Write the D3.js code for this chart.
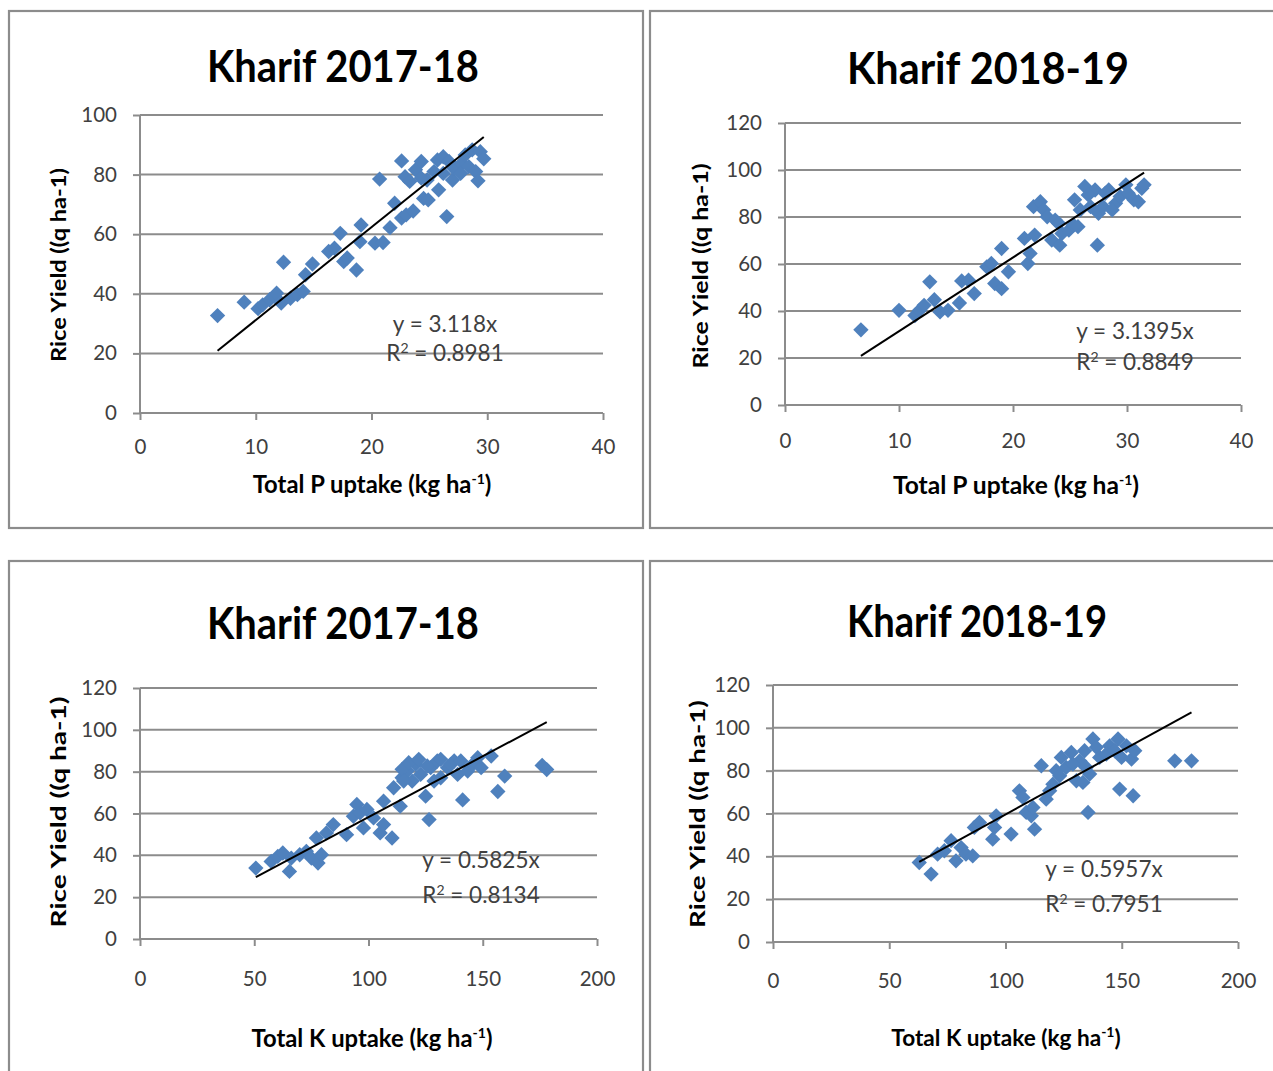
<!DOCTYPE html>
<html><head><meta charset="utf-8">
<script src="https://cdn.jsdelivr.net/npm/d3@7"></script>
<style>body{margin:0;background:#fff;} svg{display:block}</style>
</head><body>
<svg id="c" width="1273" height="1071"></svg>
<script>
// ---------- data ----------
const titles = ["Kharif 2017-18", "Kharif 2018-19", "Kharif 2017-18", "Kharif 2018-19"];
const xTitleMain = ["Total P uptake (kg ha", "Total P uptake (kg ha", "Total K uptake (kg ha", "Total K uptake (kg ha"];
const yTitleText = "Rice Yield ((q ha-1)";
const pTicks = [0, 10, 20, 30, 40];
const kTicks = [0, 50, 100, 150, 200];
const yTicks100 = [0, 20, 40, 60, 80, 100];
const yTicks120 = [0, 20, 40, 60, 80, 100, 120];
const slopes = [3.118, 3.1395, 0.5825, 0.5957];
const eqLabels = ["y = 3.118x", "y = 3.1395x", "y = 0.5825x", "y = 0.5957x"];
const r2Values = ["0.8981", "0.8849", "0.8134", "0.7951"];

// Kharif 2017-18, P uptake vs yield
const p1718X = [6.7, 9.0, 10.2, 10.6, 11.2, 11.8, 12.2, 12.4, 13.0, 13.6, 14.1, 14.3, 14.9, 16.3, 16.8, 17.3, 17.6, 17.9, 18.7, 19.0, 19.1, 20.3, 21.0, 20.7, 21.6, 22.0, 22.6, 22.6, 23.0, 22.9, 23.6, 23.3, 23.8, 24.3, 24.5, 24.9, 24.8, 25.4, 25.7, 25.8, 26.2, 26.5, 26.7, 27.0, 27.1, 27.8, 28.1, 28.4, 28.7, 29.0, 29.2, 29.4, 29.7, 27.7, 26.2, 24.3];
const p1718Y = [32.7, 37.2, 35.0, 36.3, 38.0, 40.2, 36.9, 50.6, 38.5, 39.7, 40.8, 46.4, 50.0, 54.2, 55.3, 60.3, 50.8, 52.0, 48.0, 57.5, 63.1, 57.0, 57.2, 78.5, 62.2, 70.4, 84.6, 65.4, 66.5, 79.3, 67.8, 77.7, 81.6, 84.4, 72.0, 71.5, 78.2, 81.0, 84.9, 74.9, 86.0, 65.9, 84.4, 78.2, 82.1, 83.8, 86.6, 82.7, 88.3, 81.0, 77.9, 87.7, 85.3, 80.4, 80.4, 78.8];

// Kharif 2018-19, P uptake vs yield
const p1819X = [6.66, 10.0, 11.4, 11.8, 12.2, 12.7, 13.1, 13.6, 14.3, 15.3, 15.5, 16.1, 16.6, 17.7, 18.1, 18.4, 19.0, 19.0, 19.6, 21.0, 21.3, 21.5, 21.9, 21.8, 22.4, 22.7, 23.0, 23.4, 23.7, 24.1, 24.3, 24.9, 25.3, 25.7, 25.4, 25.9, 26.3, 26.8, 27.2, 27.4, 27.5, 27.9, 28.1, 28.4, 29.0, 29.4, 29.9, 30.1, 30.6, 31.0, 31.3, 31.5, 26.6, 28.7, 24.0];
const p1819Y = [32.0, 40.3, 38.1, 40.3, 42.4, 52.4, 44.8, 39.6, 40.3, 43.4, 52.8, 53.1, 47.4, 58.8, 60.2, 51.7, 49.5, 66.6, 56.7, 70.9, 60.2, 64.5, 72.3, 84.4, 86.5, 83.0, 80.1, 70.2, 78.7, 68.0, 73.0, 74.4, 76.6, 75.9, 87.3, 83.0, 93.0, 84.4, 91.5, 68.0, 81.6, 84.4, 90.1, 91.5, 85.8, 88.7, 93.7, 90.1, 87.3, 86.5, 92.2, 93.7, 89.4, 83.0, 77.3];

// Kharif 2017-18, K uptake vs yield
const k1718X = [50.7, 57.4, 60.3, 62.5, 65.4, 66.2, 69.9, 72.8, 75.0, 77.2, 77.9, 79.4, 81.6, 84.6, 90.4, 93.4, 94.9, 96.3, 97.8, 99.3, 102.2, 105.1, 106.6, 106.6, 110.3, 111.0, 113.9, 114.7, 116.9, 119.1, 120.6, 122.8, 125.0, 126.5, 127.2, 130.1, 131.6, 134.6, 137.5, 139.0, 141.2, 143.4, 145.6, 147.8, 149.3, 153.7, 156.6, 159.6, 176.0, 178.0, 114.7, 117.6, 122.0, 125.7, 131.6, 136.0, 140.4, 115.4, 128.7];
const k1718Y = [33.9, 37.1, 39.5, 41.1, 32.3, 38.7, 40.3, 41.9, 38.7, 48.3, 36.3, 40.3, 50.7, 54.7, 49.9, 58.7, 64.3, 60.3, 53.1, 61.9, 57.9, 50.7, 65.9, 54.7, 48.3, 72.3, 63.5, 77.1, 80.3, 75.5, 83.5, 78.7, 68.3, 57.1, 81.9, 85.1, 77.1, 81.9, 85.1, 78.7, 66.5, 80.3, 83.5, 86.7, 81.9, 87.5, 70.5, 77.9, 83.0, 81.0, 81.1, 84.3, 85.9, 82.7, 85.9, 83.5, 85.1, 75.5, 75.5];

// Kharif 2018-19, K uptake vs yield
const k1819X = [62.9, 68.0, 70.8, 73.7, 76.6, 78.7, 80.9, 83.0, 85.9, 86.6, 88.8, 94.5, 95.3, 96.0, 102.4, 106.0, 107.5, 108.9, 111.1, 112.5, 111.8, 115.4, 117.5, 119.0, 120.4, 121.8, 124.0, 126.1, 128.3, 130.5, 131.9, 133.3, 134.0, 135.5, 136.2, 137.6, 139.1, 140.5, 144.8, 148.4, 149.1, 149.9, 152.0, 154.2, 154.9, 155.6, 172.8, 180.0, 123.3, 129.0, 134.7, 143.4, 147.0];
const k1819Y = [37.1, 31.7, 41.0, 42.6, 47.3, 37.9, 44.1, 41.0, 40.2, 53.5, 55.8, 48.0, 53.5, 58.9, 50.4, 70.6, 67.5, 60.5, 58.9, 52.7, 62.8, 82.3, 66.7, 70.6, 73.7, 80.0, 86.2, 81.5, 88.5, 75.3, 84.6, 74.5, 89.3, 60.5, 78.4, 94.8, 90.9, 86.2, 91.6, 94.8, 71.4, 86.2, 91.6, 85.4, 68.3, 89.3, 84.6, 84.6, 77.6, 83.1, 81.5, 87.8, 89.3];

// ---------- layout ----------
const svg = d3.select("#c");
const gray = "#8c8c8c";
const blue = "#4f81bd";
const FONT = "Lato, 'Open Sans', sans-serif";

const panels = [
  {xs: p1718X, ys: p1718Y, xTicks: pTicks, yTicks: yTicks100, xMax: 40, yMax: 100,
   box: [9, 11, 634, 517], plot: [140, 603, 115, 413], xPad: 19, titleX: 343, titleY: 82, titleW: 272,
   xTitleX: 372, xTitleY: 493, xTitleSize: 23.8, yTitleX: 66, yTitleY: 265, yTitleW: 194,
   eqX: 445, eqY: 332, r2Y: 361},
  {xs: p1819X, ys: p1819Y, xTicks: pTicks, yTicks: yTicks120, xMax: 40, yMax: 120,
   box: [650, 11, 640, 517], plot: [785, 1241, 123, 405], xPad: 21, titleX: 988, titleY: 84, titleW: 282,
   xTitleX: 1016, xTitleY: 494, xTitleSize: 24.6, yTitleX: 708, yTitleY: 266, yTitleW: 205,
   eqX: 1135, eqY: 339, r2Y: 370},
  {xs: k1718X, ys: k1718Y, xTicks: kTicks, yTicks: yTicks120, xMax: 200, yMax: 120,
   box: [9, 561, 634, 530], plot: [140, 597, 688, 939], xPad: 25, titleX: 343, titleY: 639, titleW: 272,
   xTitleX: 372, xTitleY: 1047, xTitleSize: 23.8, yTitleX: 66, yTitleY: 812, yTitleW: 231,
   eqX: 481, eqY: 868, r2Y: 903},
  {xs: k1819X, ys: k1819Y, xTicks: kTicks, yTicks: yTicks120, xMax: 200, yMax: 120,
   box: [650, 561, 640, 530], plot: [773, 1238, 685, 942], xPad: 24, titleX: 977, titleY: 637, titleW: 260,
   xTitleX: 1006, xTitleY: 1046, xTitleSize: 22.6, yTitleX: 705, yTitleY: 814, yTitleW: 228,
   eqX: 1104, eqY: 877, r2Y: 912}
];

panels.forEach((p, i) => {
  const g = svg.append("g");
  // panel border
  g.append("rect").attr("x", p.box[0]).attr("y", p.box[1]).attr("width", p.box[2]).attr("height", p.box[3])
    .attr("fill", "#fff").attr("stroke", gray).attr("stroke-width", 2.2);

  const x = d3.scaleLinear().domain([0, p.xMax]).range([p.plot[0], p.plot[1]]);
  const y = d3.scaleLinear().domain([0, p.yMax]).range([p.plot[3], p.plot[2]]);

  // gridlines
  g.append("g").selectAll("line").data(p.yTicks.filter(v => v > 0)).join("line")
    .attr("x1", p.plot[0]).attr("x2", p.plot[1])
    .attr("y1", d => y(d)).attr("y2", d => y(d))
    .attr("stroke", gray).attr("stroke-width", 2);

  // y axis
  const yAx = g.append("g").attr("transform", `translate(${p.plot[0]},0)`)
    .call(d3.axisLeft(y).tickValues(p.yTicks).tickSize(7).tickPadding(16).tickFormat(d3.format("d")));
  // x axis
  const xAx = g.append("g").attr("transform", `translate(0,${p.plot[3]})`)
    .call(d3.axisBottom(x).tickValues(p.xTicks).tickSize(7).tickPadding(p.xPad).tickFormat(d3.format("d")));
  [yAx, xAx].forEach(a => {
    a.select(".domain").attr("stroke", gray).attr("stroke-width", 2);
    a.selectAll(".tick line").attr("stroke", gray).attr("stroke-width", 2);
    a.selectAll(".tick text").attr("fill", "#404040").style("font-family", FONT).style("font-size", "20.5px");
  });
  xAx.select(".domain").attr("d", `M${p.plot[0]},0H${p.plot[1]}`);
  yAx.select(".domain").attr("d", `M0,${p.plot[2]}V${p.plot[3]}`);

  // points
  const pts = p.xs.map((v, k) => [v, p.ys[k]]);
  const sym = d3.symbol().type(d3.symbolDiamond2).size(150);
  g.append("g").selectAll("path").data(pts).join("path")
    .attr("d", sym)
    .attr("transform", d => `translate(${x(d[0])},${y(d[1])})`)
    .attr("fill", blue);

  // trendline (through origin) across data range
  const xmin = d3.min(p.xs), xmax = d3.max(p.xs);
  g.append("line")
    .attr("x1", x(xmin)).attr("y1", y(slopes[i] * xmin))
    .attr("x2", x(xmax)).attr("y2", y(slopes[i] * xmax))
    .attr("stroke", "#000").attr("stroke-width", 2);

  // equation labels
  g.append("text").attr("x", p.eqX).attr("y", p.eqY).attr("text-anchor", "middle")
    .style("font-family", FONT).style("font-size", "22.5px").attr("fill", "#404040")
    .text(eqLabels[i]);
  const r2 = g.append("text").attr("x", p.eqX).attr("y", p.r2Y).attr("text-anchor", "middle")
    .style("font-family", FONT).style("font-size", "22.5px").attr("fill", "#404040");
  r2.append("tspan").text("R");
  r2.append("tspan").attr("dy", -8).style("font-size", "14px").text("2");
  r2.append("tspan").attr("dy", 8).text(" = " + r2Values[i]);

  // title
  g.append("text").attr("x", p.titleX).attr("y", p.titleY).attr("text-anchor", "middle")
    .style("font-family", FONT).style("font-weight", 700).style("font-size", "44px")
    .attr("textLength", p.titleW).attr("lengthAdjust", "spacingAndGlyphs")
    .attr("fill", "#000").text(titles[i]);

  // x title
  const xt = g.append("text").attr("x", p.xTitleX).attr("y", p.xTitleY).attr("text-anchor", "middle")
    .style("font-family", FONT).style("font-weight", 700).style("font-size", p.xTitleSize + "px").attr("fill", "#000");
  xt.append("tspan").text(xTitleMain[i]);
  xt.append("tspan").attr("dy", -9).style("font-size", "14px").text("-1");
  xt.append("tspan").attr("dy", 9).text(")");

  // y title
  g.append("text").attr("transform", `translate(${p.yTitleX},${p.yTitleY}) rotate(-90)`)
    .attr("text-anchor", "middle")
    .style("font-family", FONT).style("font-weight", 700).style("font-size", "21px")
    .attr("textLength", p.yTitleW).attr("lengthAdjust", "spacingAndGlyphs")
    .attr("fill", "#000").text(yTitleText);
});
</script>
</body></html>
